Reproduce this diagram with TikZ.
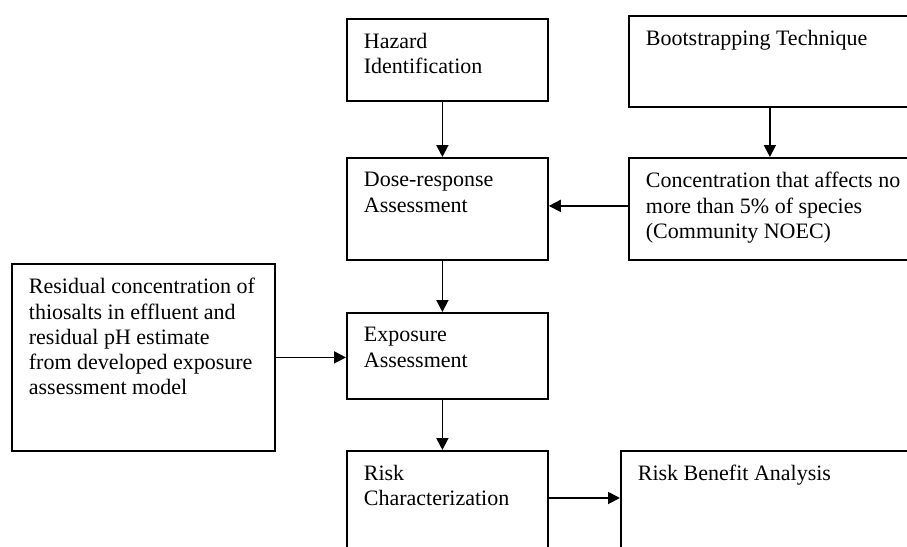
\documentclass[tikz,border=0pt]{standalone}
\usepackage{fontspec}
\setmainfont{Liberation Serif}
\usetikzlibrary{arrows.meta,calc}

\tikzset{
  stage/.style={draw, rectangle, anchor=north west, inner sep=0pt, line width=0.9pt},
  stagetext/.style={anchor=north west, align=left, inner sep=0pt, xshift=8.5pt, yshift=-7.3pt, font=\fontsize{11}{12.6}\selectfont}
}

\begin{document}
\begin{tikzpicture}[x=0.5pt,y=-0.5pt,->,>={Triangle[length=6pt,width=6pt]},line width=0.9pt]
  \useasboundingbox (0,0) rectangle (907,547);
  \clip (0,0) rectangle (907,547);

  \node [stage, minimum width=100.5pt, minimum height=41pt, label={[stagetext]north west:Hazard\\Identification}] (haz) at (346,18) {};
  \node [stage, minimum width=141pt, minimum height=45.5pt, label={[stagetext]north west:Bootstrapping Technique}] (boot) at (628,15) {};
  \node [stage, minimum width=100.5pt, minimum height=51pt, label={[stagetext]north west:Dose-response\\Assessment}] (dose) at (346,157) {};
  \node [stage, minimum width=141pt, minimum height=51pt, label={[stagetext]north west:Concentration that affects no\\more than 5\% of species\\(Community NOEC)}] (conc) at (628,157) {};
  \node [stage, minimum width=131.5pt, minimum height=93.5pt, label={[stagetext]north west:Residual concentration of\\thiosalts in effluent and\\residual pH estimate\\from developed exposure\\assessment model}] (resid) at (11,263) {};
  \node [stage, minimum width=100.5pt, minimum height=43pt, label={[stagetext]north west:Exposure\\Assessment}] (expo) at (346,312) {};
  \node [stage, minimum width=100.5pt, minimum height=75pt, label={[stagetext]north west:Risk\\Characterization}] (riskc) at (346,450) {};
  \node [stage, minimum width=150pt, minimum height=75pt, label={[stagetext]north west:Risk Benefit Analysis}] (rba) at (620,450) {};

  % flow
  \draw ([xshift=-2.5pt]haz.south) -- ([xshift=-2.5pt]dose.north);
  \draw (boot.south) -- (conc.north);
  \draw ([yshift=1.5pt]conc.west) -- ([yshift=1.5pt]dose.east);
  \draw ([xshift=-2.5pt]dose.south) -- ([xshift=-2.5pt]expo.north);
  \draw (resid.east) -- (resid.east -| expo.west);
  \draw ([xshift=-2.5pt]expo.south) -- ([xshift=-2.5pt]riskc.north);
  \draw ($(riskc.north east)+(0,48)$) -- ($(rba.north west)+(0,48)$);
\end{tikzpicture}
\end{document}
